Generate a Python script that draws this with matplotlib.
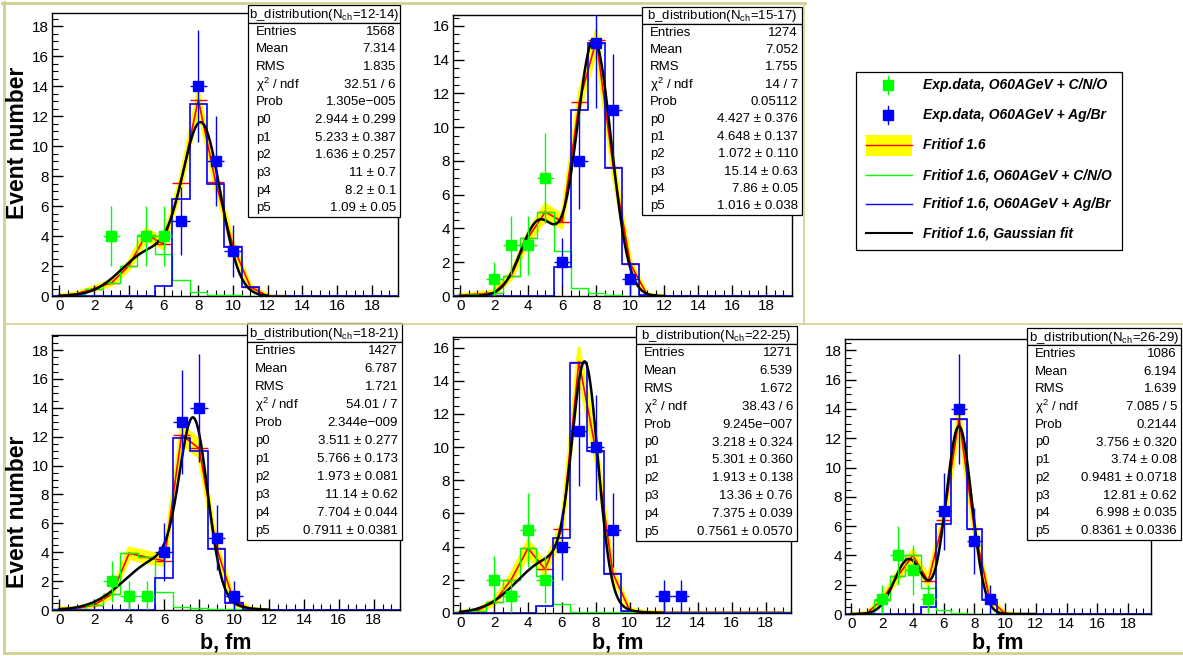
import numpy as np
import matplotlib
matplotlib.use("Agg")
import matplotlib.pyplot as plt
from matplotlib.patches import Rectangle
from matplotlib.ticker import MultipleLocator

plt.rcParams['font.family'] = ['Liberation Sans', 'DejaVu Sans']
plt.rcParams['mathtext.fontset'] = 'custom'
plt.rcParams['mathtext.rm'] = 'Liberation Sans'
plt.rcParams['mathtext.it'] = 'Liberation Sans:italic'

# ---- data (bins of width 1 centred on 0..19) ----
nch = ['12-14', '15-17', '18-21', '22-25', '26-29']

# experimental points, C/N/O (green) and Ag/Br (blue)
exp_cno_x = [[3, 5, 6], [2, 3, 4, 5], [3, 4, 5], [2, 3, 4, 5], [2, 3, 4, 5]]
exp_cno_y = [[4, 4, 4], [1, 3, 3, 7], [2, 1, 1], [2, 1, 5, 2], [1, 4, 3, 1]]
exp_agbr_x = [[7, 8, 9, 10], [6, 7, 8, 9, 10], [6, 7, 8, 9, 10],
              [6, 7, 8, 9, 12, 13], [6, 7, 8, 9]]
exp_agbr_y = [[5, 14, 9, 3], [2, 8, 15, 11, 1], [4, 13, 14, 5, 1],
              [4, 11, 10, 5, 1, 1], [7, 14, 5, 1]]

# Fritiof 1.6, C/N/O component
sim_cno_1 = [0.02, 0.15, 0.5, 0.87, 2.0, 4.1, 2.8, 1.05, 0.3, 0.1, 0.05, 0, 0, 0, 0, 0, 0, 0, 0, 0]
sim_cno_2 = [0.05, 0.1, 0.2, 1.19, 3.46, 4.98, 2.67, 0.5, 0.15, 0.05, 0.02, 0, 0, 0, 0, 0, 0, 0, 0, 0]
sim_cno_3 = [0.1, 0.1, 0.35, 1.1, 3.93, 3.65, 1.22, 0.23, 0.15, 0.1, 0.05, 0.05, 0, 0, 0, 0, 0, 0, 0, 0]
sim_cno_4 = [0.05, 0.15, 0.64, 2.0, 3.9, 2.25, 0.55, 0.05, 0.05, 0.05, 0.05, 0.04, 0.04, 0.04,
             0.04, 0.04, 0.04, 0.04, 0.04, 0.04]
sim_cno_5 = [0, 0.05, 0.98, 2.57, 4.0, 1.78, 0.3, 0.05, 0.03, 0.03, 0.03, 0, 0, 0, 0, 0, 0, 0, 0, 0]

# Fritiof 1.6, Ag/Br component
sim_agbr_1 = [0, 0, 0, 0, 0, 0, 0.67, 6.5, 12.8, 7.5, 3.3, 0.6, 0, 0, 0, 0, 0, 0, 0, 0]
sim_agbr_2 = [0, 0, 0, 0, 0, 0, 1.74, 11.0, 15.0, 7.57, 1.88, 0.05, 0, 0, 0, 0, 0, 0, 0, 0]
sim_agbr_3 = [0, 0, 0, 0, 0, 0, 2.19, 11.9, 11.04, 4.2, 0.5, 0, 0, 0, 0, 0, 0, 0, 0, 0]
sim_agbr_4 = [0, 0, 0, 0, 0, 0.4, 4.5, 15.1, 9.74, 2.35, 0.1, 0, 0, 0, 0, 0, 0, 0, 0, 0]
sim_agbr_5 = [0, 0, 0, 0, 0, 0.45, 6.15, 13.3, 5.8, 0.98, 0, 0, 0, 0, 0, 0, 0, 0, 0, 0]

# half width of the yellow band of Fritiof 1.6 (total)
sim_err_1 = [0.02, 0.05, 0.1, 0.15, 0.25, 0.35, 0.3, 0.4, 0.55, 0.4, 0.3, 0.12, 0.03, 0, 0, 0, 0, 0, 0, 0]
sim_err_2 = [0.02, 0.05, 0.1, 0.2, 0.3, 0.45, 0.35, 0.5, 0.6, 0.45, 0.2, 0.05, 0, 0, 0, 0, 0, 0, 0, 0]
sim_err_3 = [0.03, 0.05, 0.1, 0.2, 0.35, 0.35, 0.3, 0.6, 0.6, 0.35, 0.15, 0.05, 0, 0, 0, 0, 0, 0, 0, 0]
sim_err_4 = [0.02, 0.05, 0.15, 0.3, 0.45, 0.35, 0.4, 0.8, 0.6, 0.3, 0.1, 0.03, 0, 0, 0, 0, 0, 0, 0, 0]
sim_err_5 = [0, 0.02, 0.15, 0.3, 0.35, 0.3, 0.45, 0.6, 0.4, 0.15, 0.05, 0, 0, 0, 0, 0, 0, 0, 0, 0]

# double gaussian fit parameters p0..p5 (from the stat boxes)
fit_par = [[2.944, 5.233, 1.636, 11.0, 8.2, 1.09],
           [4.427, 4.648, 1.072, 15.14, 7.86, 1.016],
           [3.511, 5.766, 1.973, 11.14, 7.704, 0.7911],
           [3.218, 5.301, 1.913, 13.36, 7.375, 0.7561],
           [3.756, 3.74, 0.9481, 12.81, 6.998, 0.8361]]
fit_par_txt = [['2.944 ± 0.299', '5.233 ± 0.387', '1.636 ± 0.257', '11 ± 0.7', '8.2 ± 0.1', '1.09 ± 0.05'],
               ['4.427 ± 0.376', '4.648 ± 0.137', '1.072 ± 0.110', '15.14 ± 0.63', '7.86 ± 0.05', '1.016 ± 0.038'],
               ['3.511 ± 0.277', '5.766 ± 0.173', '1.973 ± 0.081', '11.14 ± 0.62', '7.704 ± 0.044', '0.7911 ± 0.0381'],
               ['3.218 ± 0.324', '5.301 ± 0.360', '1.913 ± 0.138', '13.36 ± 0.76', '7.375 ± 0.039', '0.7561 ± 0.0570'],
               ['3.756 ± 0.320', '3.74 ± 0.08', '0.9481 ± 0.0718', '12.81 ± 0.62', '6.998 ± 0.035', '0.8361 ± 0.0336']]
entries = ['1568', '1274', '1427', '1271', '1086']
means = ['7.314', '7.052', '6.787', '6.539', '6.194']
rms = ['1.835', '1.755', '1.721', '1.672', '1.639']
chi2 = ['32.51 / 6', '14 / 7', '54.01 / 7', '38.43 / 6', '7.085 / 5']
prob = ['1.305e\u2212005', '0.05112', '2.344e\u2212009', '9.245e\u2212007', '0.2144']

legend_labels = ['Exp.data, O60AGeV + C/N/O', 'Exp.data, O60AGeV + Ag/Br', 'Fritiof 1.6',
                 'Fritiof 1.6, O60AGeV + C/N/O', 'Fritiof 1.6, O60AGeV + Ag/Br',
                 'Fritiof 1.6, Gaussian fit']

sim_cno = [sim_cno_1, sim_cno_2, sim_cno_3, sim_cno_4, sim_cno_5]
sim_agbr = [sim_agbr_1, sim_agbr_2, sim_agbr_3, sim_agbr_4, sim_agbr_5]
sim_err = [sim_err_1, sim_err_2, sim_err_3, sim_err_4, sim_err_5]

# ---- layout (pixels) ----
W, H = 1183, 656
axes_px = [(52, 13, 398, 296), (453, 15, 792, 296), (52, 335, 400, 610),
           (453, 337, 791, 613), (845, 339, 1151, 614)]
ymax = [18.87, 16.65, 19.04, 16.64, 18.78]
stat_px = [(248, 5, 400, 23, 217), (642, 7, 802, 24, 215), (247, 323, 402, 342, 540),
           (636, 326, 797, 344, 541), (1027, 328, 1181, 345, 540)]

GREEN, BLUE, RED, YELLOW = '#00ff00', '#0000ff', '#ff0000', '#ffff00'

fig = plt.figure(figsize=(W / 100, H / 100), dpi=100)


def gaus2(x, p):
    return (p[0] * np.exp(-0.5 * ((x - p[1]) / p[2]) ** 2)
            + p[3] * np.exp(-0.5 * ((x - p[4]) / p[5]) ** 2))


centers = np.arange(20)
edges = np.arange(21) - 0.5
xfit = np.linspace(0, 12, 500)

for i in range(5):
    x0, y0, x1, y1 = axes_px[i]
    ax = fig.add_axes([x0 / W, 1 - y1 / H, (x1 - x0) / W, (y1 - y0) / H])
    g = np.array(sim_cno[i])
    b = np.array(sim_agbr[i])
    e = np.array(sim_err[i])
    tot = g + b
    nb = int(np.nonzero(e)[0].max()) + 2   # band only where it has a width

    ax.fill_between(centers[:nb], (tot - e)[:nb], (tot + e)[:nb], color=YELLOW, lw=0, zorder=1)
    ax.plot(centers[:nb], (tot + e)[:nb], color=YELLOW, lw=2.5, zorder=1)
    ax.plot(centers[:nb], (tot - e)[:nb], color=YELLOW, lw=2.5, zorder=1)
    ax.hlines(tot, centers - 0.5, centers + 0.5, color=RED, lw=1, zorder=2)
    ax.plot(centers, tot, color=RED, lw=1.2, zorder=2)
    ax.stairs(g, edges, color=GREEN, lw=1, zorder=3)
    ax.stairs(b, edges, color=BLUE, lw=1.2, zorder=3)
    ax.plot(xfit, gaus2(xfit, fit_par[i]), color='black', lw=1.8, zorder=4)

    gx, gy = np.array(exp_cno_x[i]), np.array(exp_cno_y[i])
    bx, by = np.array(exp_agbr_x[i]), np.array(exp_agbr_y[i])
    ax.errorbar(gx, gy, yerr=np.sqrt(gy), xerr=0.5, fmt='s', color=GREEN,
                ms=7.5, elinewidth=1, capsize=0, zorder=5)
    ax.errorbar(bx, by, yerr=np.sqrt(by), xerr=0.5, fmt='s', color=BLUE,
                ms=7.5, elinewidth=1, capsize=0, zorder=5)

    ax.set_xlim(-0.42, 19.5)
    ax.set_ylim(0, ymax[i])
    ax.set_xticks(np.arange(0, 19, 2))
    ax.set_yticks(np.arange(0, ymax[i], 2))
    ax.xaxis.set_minor_locator(MultipleLocator(0.5))
    ax.yaxis.set_minor_locator(MultipleLocator(0.5))
    ax.tick_params(which='major', direction='in', length=8, width=1,
                   labelsize=11, pad=2)
    ax.tick_params(which='minor', direction='in', length=4, width=0.8)
    for s in ax.spines.values():
        s.set_linewidth(1)

# ---- overlay in pixel coordinates: pad frames, stat boxes, legend, titles ----
ov = fig.add_axes([0, 0, 1, 1])
ov.set_xlim(0, W)
ov.set_ylim(H, 0)
ov.axis('off')
ov.set_zorder(10)

frame_col = '#d4ce90'
ov.plot([4, 4], [2, 653], color=frame_col, lw=2)
ov.plot([2, 805], [3, 3], color=frame_col, lw=2)
ov.plot([804, 804], [3, 324], color=frame_col, lw=1.2)
ov.plot([4, 1183], [324, 324], color=frame_col, lw=1.2)
ov.plot([4, 1183], [653, 653], color=frame_col, lw=2)

for i in range(5):
    bx0, by0, bx1, bsep, by1 = stat_px[i]
    ov.add_patch(Rectangle((bx0, by0), bx1 - bx0, bsep - by0, facecolor='white',
                           edgecolor='black', lw=0.9))
    ov.add_patch(Rectangle((bx0, bsep), bx1 - bx0, by1 - bsep, facecolor='white',
                           edgecolor='black', lw=0.9))
    ov.text((bx0 + bx1) / 2, (by0 + bsep) / 2 + 1,
            'b_distribution(N$_{\\mathregular{ch}}$=' + nch[i] + ')',
            ha='center', va='center', fontsize=9.5)
    labels = ['Entries', 'Mean', 'RMS', '\u03c7$^{2}$ / ndf', 'Prob',
              'p0', 'p1', 'p2', 'p3', 'p4', 'p5']
    values = [entries[i], means[i], rms[i], chi2[i], prob[i]] + fit_par_txt[i]
    step = (by1 - bsep) / 11
    for k in range(11):
        yy = bsep + step * (k + 0.5)
        ov.text(bx0 + 8, yy, labels[k], ha='left', va='center', fontsize=9.5)
        ov.text(bx1 - 4, yy, values[k], ha='right', va='center', fontsize=9.5)

# axis titles
ov.text(18, 143, 'Event number', rotation=90, ha='center', va='center',
        fontsize=16.5, fontweight='bold')
ov.text(18, 512, 'Event number', rotation=90, ha='center', va='center',
        fontsize=16.5, fontweight='bold')
for xc in [226, 618, 998]:
    ov.text(xc, 643, 'b, fm', ha='center', va='center', fontsize=15.5,
            fontweight='bold')

# legend
ov.add_patch(Rectangle((856, 72), 1122 - 856, 250 - 72, facecolor='white',
                       edgecolor='black', lw=0.9))
rows = [85, 115, 145, 175, 204, 233]
ov.plot([888, 888], [rows[0] - 9, rows[0] + 9], color=GREEN, lw=1)
ov.plot([888], [rows[0]], 's', color=GREEN, ms=7)
ov.plot([888, 888], [rows[1] - 9, rows[1] + 9], color=BLUE, lw=1)
ov.plot([888], [rows[1]], 's', color=BLUE, ms=7)
ov.add_patch(Rectangle((866, rows[2] - 10.5), 46, 21, facecolor=YELLOW, lw=0))
ov.plot([866, 912], [rows[2], rows[2]], color=RED, lw=1)
ov.plot([866, 912], [rows[3], rows[3]], color=GREEN, lw=1)
ov.plot([866, 912], [rows[4], rows[4]], color=BLUE, lw=1)
ov.plot([866, 912], [rows[5], rows[5]], color='black', lw=1.5)
for yy, lab in zip(rows, legend_labels):
    ov.text(923, yy, lab, ha='left', va='center', fontsize=10,
            fontweight='bold', style='italic')

fig.savefig('out.png', dpi=100)
